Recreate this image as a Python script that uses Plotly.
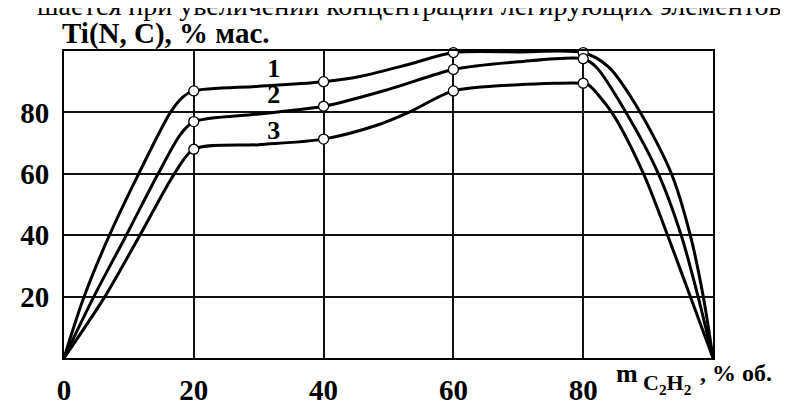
import plotly.graph_objects as go

# ---- data ----
c1_x = [0, 3.1, 7.0, 11.5, 16.4, 18.3, 20, 30, 40, 45.6, 53.2, 60, 70, 80, 83.9, 88.8, 93.6, 96.5, 98.5, 100]
c1_y = [0, 20, 40, 60, 80, 85, 87, 88.5, 90, 91.7, 95.7, 99.5, 99.7, 99.5, 94.8, 80, 60, 40, 20, 0]

c2_x = [0, 4.6, 9.6, 14.5, 18.0, 20, 30, 40, 50, 60, 70, 80, 82.0, 86.6, 91.6, 95.1, 97.7, 100]
c2_y = [0, 20, 40, 60, 73, 77, 79.5, 82, 87.5, 94, 96.5, 97.5, 94.8, 80, 60, 40, 20, 0]

c3_x = [0, 6.3, 11.7, 17.0, 20, 30, 40, 48.2, 53.2, 60, 70, 80, 80.8, 84.4, 89.3, 93.0, 96.5, 100]
c3_y = [0, 20, 40, 60, 68, 69.5, 71.3, 75.8, 80.1, 87, 89, 89.5, 89, 80, 60, 40, 20, 0]

marker_x = [20, 40, 60, 80]
m1_y = [87, 90, 99.5, 99.5]
m2_y = [77, 82, 94, 97.5]
m3_y = [68, 71.3, 87, 89.5]

curve_labels = ["1", "2", "3"]
label_x = [32.3, 32.3, 32.3]
label_y = [93.7, 85.2, 73.4]

x_ticks = [0, 20, 40, 60, 80]
y_ticks = [20, 40, 60, 80]

# ---- layout geometry (pixels) ----
W, H = 788, 410
L, R, T, B = 52, 83, 43, 40
PW, PH = W - L - R, H - T - B


def px(p):
    return (p - L) / PW


def py(p):
    return (H - B - p) / PH


SERIF = "Liberation Serif, Times New Roman, serif"

fig = go.Figure()
for xs, ys in [(c1_x, c1_y), (c2_x, c2_y), (c3_x, c3_y)]:
    fig.add_trace(go.Scatter(x=xs, y=ys, mode="lines",
                             line=dict(color="black", width=3, shape="spline", smoothing=0.8),
                             hoverinfo="skip", showlegend=False, cliponaxis=False))
for ys in [m1_y, m2_y, m3_y]:
    fig.add_trace(go.Scatter(x=marker_x, y=ys, mode="markers",
                             marker=dict(symbol="circle", size=10, color="white",
                                         line=dict(color="black", width=1.3)),
                             showlegend=False, cliponaxis=False))

fig.add_trace(go.Scatter(x=label_x, y=label_y, mode="text", text=curve_labels,
                         textposition="middle center",
                         textfont=dict(family=SERIF, size=26, color="black", weight="bold"),
                         showlegend=False))

annotations = [
    dict(text="шается при увеличении концентрации легирующих элементов",
         xref="paper", yref="paper", x=px(400), y=py(-5), xanchor="center", yanchor="middle",
         showarrow=False, font=dict(family=SERIF, size=28, color="black")),
    dict(text="<b>Ti(N, C), % мас.</b>",
         xref="paper", yref="paper", x=px(48), y=py(24), xanchor="left", yanchor="middle",
         showarrow=False, font=dict(family=SERIF, size=29, color="black")),
    dict(text="<b>m</b>", xref="paper", yref="paper", x=px(605), y=py(386),
         xanchor="left", yanchor="middle", showarrow=False,
         font=dict(family=SERIF, size=26, color="black")),
    dict(text="<b>C<sub>2</sub>H<sub>2</sub></b>", xref="paper", yref="paper", x=px(633), y=py(398),
         xanchor="left", yanchor="middle", showarrow=False,
         font=dict(family=SERIF, size=22, color="black")),
    dict(text="<b>, % об.</b>", xref="paper", yref="paper", x=px(690), y=py(386),
         xanchor="left", yanchor="middle", showarrow=False,
         font=dict(family=SERIF, size=24, color="black")),
]

fig.update_layout(
    width=W, height=H,
    margin=dict(l=L, r=R, t=T, b=B, pad=0),
    paper_bgcolor="white", plot_bgcolor="white",
    annotations=annotations,
    showlegend=False,
)
fig.update_xaxes(range=[0, 100], tickvals=x_ticks, ticktext=[str(v) for v in x_ticks],
                 showgrid=True, gridcolor="#111", gridwidth=1.5,
                 showline=True, linecolor="black", linewidth=2, mirror=True,
                 zeroline=False, ticks="", ticklabelstandoff=5,
                 tickfont=dict(family=SERIF, size=29, color="black", weight="bold"))
fig.update_yaxes(range=[0, 100], tickvals=y_ticks, ticktext=[str(v) for v in y_ticks],
                 showgrid=True, gridcolor="#111", gridwidth=1.5,
                 showline=True, linecolor="black", linewidth=2, mirror=True,
                 zeroline=False, ticks="", ticklabelstandoff=7,
                 tickfont=dict(family=SERIF, size=29, color="black", weight="bold"))

fig.write_html("out.html")
